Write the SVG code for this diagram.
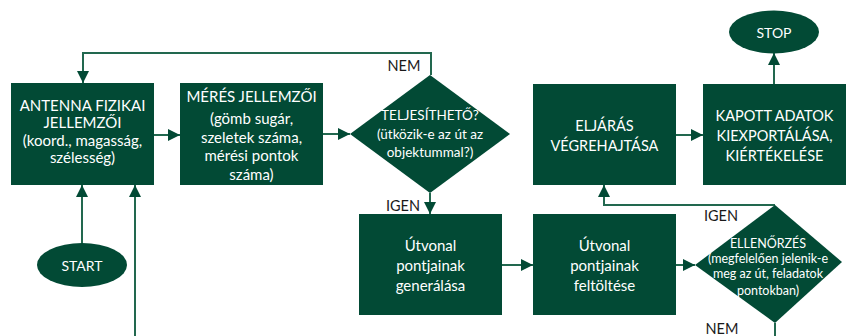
<svg xmlns="http://www.w3.org/2000/svg" width="847" height="336" viewBox="0 0 847 336">
<defs>
<style>
.n{fill:#024a35;}
.t{font-family:Lato,"Open Sans","Liberation Sans",sans-serif;fill:#ffffff;text-anchor:middle;dominant-baseline:central;}
.l{font-family:Lato,"Open Sans","Liberation Sans",sans-serif;fill:#1a1a1a;font-size:14.5px;text-anchor:middle;dominant-baseline:central;}
.c{fill:none;stroke:#22684f;stroke-width:2;}
</style>
<marker id="a" markerUnits="userSpaceOnUse" markerWidth="12" markerHeight="12" viewBox="0 0 12 12" refX="12" refY="6" orient="auto">
<path d="M0,0 L12,6 L0,12 Z" fill="#024a35"/>
</marker>
</defs>
<g id="connectors">
<path class="c" d="M82,243 V185" marker-end="url(#a)"/>
<path class="c" d="M135,336 V185" marker-end="url(#a)"/>
<path class="c" d="M154,135 H180" marker-end="url(#a)"/>
<path class="c" d="M323,134 H350" marker-end="url(#a)"/>
<path class="c" d="M431,75 V53 H83 V83" marker-end="url(#a)"/>
<path class="c" d="M430,193 V214" marker-end="url(#a)"/>
<path class="c" d="M502,265 H533" marker-end="url(#a)"/>
<path class="c" d="M676,265 H695" marker-end="url(#a)"/>
<path class="c" d="M775,205 H604 V185" marker-end="url(#a)"/>
<path class="c" d="M775,323 V336"/>
<path class="c" d="M676,135 H703" marker-end="url(#a)"/>
<path class="c" d="M774,84 V53" marker-end="url(#a)"/>
</g>
<g id="labels">
<text class="l" x="404" y="65">NEM</text>
<text class="l" x="403" y="205">IGEN</text>
<text class="l" x="721" y="215">IGEN</text>
<text class="l" x="722" y="328">NEM</text>
</g>
<g id="start">
<ellipse class="n" cx="82" cy="265" rx="45" ry="22"/>
<text class="t" x="82" y="265" font-size="14">START</text>
</g>
<g id="antenna">
<rect class="n" x="11" y="83" width="143" height="102"/>
<text class="t" font-size="15"><tspan x="82.5" y="105">ANTENNA FIZIKAI</tspan><tspan x="82.5" y="122">JELLEMZŐI</tspan><tspan x="82.5" y="140">(koord., magasság,</tspan><tspan x="82.5" y="157">szélesség)</tspan></text>
</g>
<g id="meres">
<rect class="n" x="180" y="83" width="143" height="102"/>
<text class="t" font-size="15"><tspan x="251.5" y="96">MÉRÉS JELLEMZŐI</tspan><tspan x="251.5" y="118">(gömb sugár,</tspan><tspan x="251.5" y="137">szeletek száma,</tspan><tspan x="251.5" y="155">mérési pontok</tspan><tspan x="251.5" y="174">száma)</tspan></text>
</g>
<g id="teljesitheto">
<polygon class="n" points="430,75 510,134 430,193 350,134"/>
<text class="t" font-size="13.5"><tspan x="430" y="115">TELJESÍTHETŐ?</tspan><tspan x="430" y="134">(ütközik-e az út az</tspan><tspan x="430" y="152">objektummal?)</tspan></text>
</g>
<g id="generalas">
<rect class="n" x="359" y="214" width="143" height="101"/>
<text class="t" font-size="15"><tspan x="430.5" y="245">Útvonal</tspan><tspan x="430.5" y="265">pontjainak</tspan><tspan x="430.5" y="285">generálása</tspan></text>
</g>
<g id="feltoltes">
<rect class="n" x="533" y="214" width="143" height="101"/>
<text class="t" font-size="15"><tspan x="604.5" y="245">Útvonal</tspan><tspan x="604.5" y="265">pontjainak</tspan><tspan x="604.5" y="285">feltöltése</tspan></text>
</g>
<g id="ellenorzes">
<polygon class="n" points="775,205 842,262 775,323 695,265"/>
<text class="t" font-size="12.5"><tspan x="768" y="243">ELLENŐRZÉS</tspan><tspan x="768" y="258">(megfelelően jelenik-e</tspan><tspan x="768" y="273">meg az út, feladatok</tspan><tspan x="768" y="290">pontokban)</tspan></text>
</g>
<g id="eljaras">
<rect class="n" x="533" y="84" width="143" height="101"/>
<text class="t" font-size="14.5"><tspan x="604.5" y="125">ELJÁRÁS</tspan><tspan x="604.5" y="145">VÉGREHAJTÁSA</tspan></text>
</g>
<g id="kapott">
<rect class="n" x="703" y="84" width="143" height="101"/>
<text class="t" font-size="14.5"><tspan x="774.5" y="115">KAPOTT ADATOK</tspan><tspan x="774.5" y="135">KIEXPORTÁLÁSA,</tspan><tspan x="774.5" y="155">KIÉRTÉKELÉSE</tspan></text>
</g>
<g id="stop">
<ellipse class="n" cx="774" cy="32" rx="45" ry="21.5"/>
<text class="t" x="774" y="32" font-size="14">STOP</text>
</g>
</svg>
